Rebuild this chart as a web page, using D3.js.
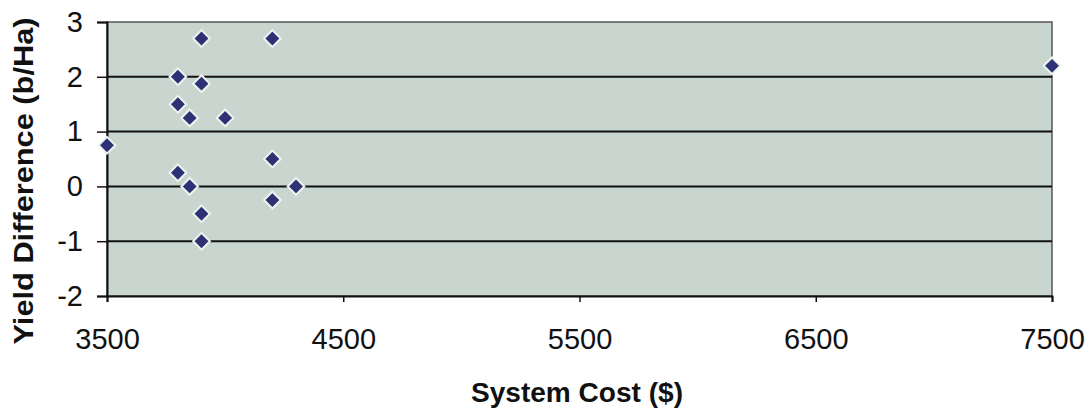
<!DOCTYPE html>
<html><head><meta charset="utf-8">
<script src="https://cdn.jsdelivr.net/npm/d3@7"></script>
<style>body{margin:0;background:#fff}svg{display:block}</style>
</head><body><div id="c"></div>
<script>
const costs = [3900, 4200, 3800, 3900, 3800, 3850, 4000, 3500, 3800, 3850, 4200, 4300, 4200, 3900, 3900, 7500];
const yieldDiff = [2.7, 2.7, 2.0, 1.875, 1.5, 1.25, 1.25, 0.75, 0.25, 0, 0.5, 0, -0.25, -0.5, -1, 2.2];
const xTicks = [3500, 4500, 5500, 6500, 7500];
const yTicks = [-2, -1, 0, 1, 2, 3];
const xTitle = "System Cost ($)";
const yTitle = "Yield Difference (b/Ha)";

const W = 1090, H = 410;
const m = {l: 107, r: 1052, t: 22, b: 296};
const svg = d3.select("#c").append("svg").attr("width", W).attr("height", H);
const x = d3.scaleLinear().domain([3500, 7500]).range([m.l, m.r]);
const y = d3.scaleLinear().domain([-2, 3]).range([m.b, m.t]);
const font = "Liberation Sans, Arial, sans-serif";

svg.append("rect").attr("x", m.l).attr("y", m.t).attr("width", m.r - m.l).attr("height", m.b - m.t)
  .attr("fill", "#c9d5cf").attr("stroke", "#555").attr("stroke-width", 1.5);

svg.append("g").selectAll("line").data(yTicks.filter(d => d > -2 && d < 3)).join("line")
  .attr("x1", m.l).attr("x2", m.r).attr("y1", d => y(d)).attr("y2", d => y(d))
  .attr("stroke", "#111").attr("stroke-width", 2);

const fmt = d => String(d);
const xAxis = svg.append("g").attr("transform", `translate(0,${m.b})`)
  .call(d3.axisBottom(x).tickValues(xTicks).tickFormat(fmt).tickSize(6).tickPadding(26));
const yAxis = svg.append("g").attr("transform", `translate(${m.l},0)`)
  .call(d3.axisLeft(y).tickValues(yTicks).tickFormat(fmt).tickSize(10).tickPadding(14));
[xAxis, yAxis].forEach(g => {
  g.attr("font-size", 29).attr("font-family", font);
  g.select(".domain").attr("stroke", "#111").attr("stroke-width", 2);
  g.selectAll(".tick line").attr("stroke", "#111").attr("stroke-width", 1.5);
  g.selectAll("text").attr("fill", "#111");
});
xAxis.selectAll("text").attr("dy", "0.71em");

const sym = d3.symbol().type(d3.symbolSquare).size(140);
svg.append("g").selectAll("path").data(costs.map((c, i) => [c, yieldDiff[i]])).join("path")
  .attr("transform", d => `translate(${x(d[0])},${y(d[1])}) rotate(45)`)
  .attr("d", sym).attr("fill", "#2c3274").attr("stroke", "#eef3f0").attr("stroke-width", 2);

svg.append("text").attr("x", 577).attr("y", 402).attr("text-anchor", "middle")
  .attr("font-family", font).attr("font-weight", "bold").attr("font-size", 27)
  .attr("textLength", 212).attr("lengthAdjust", "spacingAndGlyphs")
  .attr("fill", "#111").text(xTitle);
svg.append("text").attr("transform", `translate(33,181) rotate(-90)`).attr("text-anchor", "middle")
  .attr("font-family", font).attr("font-weight", "bold").attr("font-size", 28)
  .attr("textLength", 327).attr("lengthAdjust", "spacingAndGlyphs")
  .attr("fill", "#111").text(yTitle);
</script></body></html>
